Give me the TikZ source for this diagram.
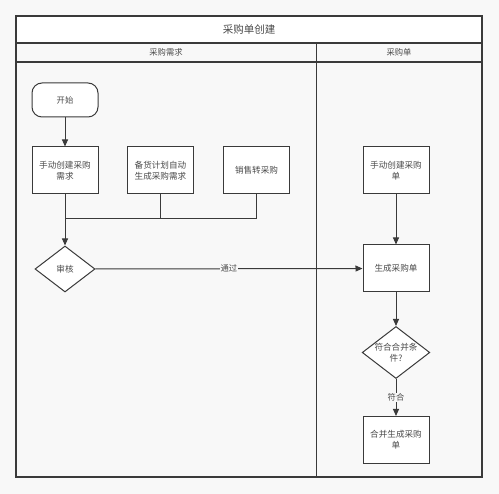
\documentclass[tikz,border=0pt]{standalone}
\usepackage{fontspec}
\setmainfont{Noto Sans CJK SC}
\usetikzlibrary{arrows.meta,shapes.geometric}
\definecolor{bg}{HTML}{F8F8F8}
\definecolor{ln}{HTML}{3A3A3A}
\definecolor{tx}{HTML}{4A4A4A}
\begin{document}
\begin{tikzpicture}[x=1pt,y=-1pt,
  every node/.style={text=tx},
  box/.style={draw=ln,line width=1pt,fill=white,minimum width=66pt,minimum height=47pt,align=center,font=\fontsize{8.6}{11}\selectfont,inner sep=1pt},
  startbox/.style={draw=ln,line width=1pt,fill=white,rounded corners=10pt,minimum width=66pt,minimum height=34pt,font=\fontsize{8.3}{11}\selectfont},
  dia/.style={draw=ln,line width=1pt,fill=white,diamond,aspect=1.3,minimum width=60pt,minimum height=46pt,inner sep=0pt,align=center,font=\fontsize{8.6}{11}\selectfont},
  conn/.style={draw=ln,line width=1pt},
  arr/.style={conn,-{Triangle[length=7pt,width=6pt]}},
  lbl/.style={fill=bg,inner sep=1pt,font=\fontsize{8.3}{11}\selectfont},
  frame/.style={draw=ln,line width=1.1pt}]
\fill[bg] (0,0) rectangle (499,494);
\useasboundingbox (0,0) rectangle (499,494);
% pool
\draw[frame,fill=white] (16,16) rectangle (482,43);
\draw[frame] (16,43) rectangle (482,477);
\draw[frame] (16,62) -- (482,62);
\draw[frame] (316.5,43) -- (316.5,477);
\node[font=\fontsize{10.5}{12}\selectfont] (title) at (249,29.5) {采购单创建};
\node[font=\fontsize{8.3}{10}\selectfont] (lane1) at (166,52.5) {采购需求};
\node[font=\fontsize{8.3}{10}\selectfont] (lane2) at (399,52.5) {采购单};
% nodes
\node[startbox] (start) at (65,100) {开始};
\node[box] (b1) at (65,170.5) {手动创建采购\\需求};
\node[box] (b2) at (160.5,170.5) {备货计划自动\\生成采购需求};
\node[box] (b3) at (256.5,170.5) {销售转采购};
\node[dia] (d1) at (65,269) {审核};
\node[box] (c1) at (396,170.5) {手动创建采购\\单};
\node[box] (c2) at (396,268.5) {生成采购单};
\node[dia] (d2) at (396,352.5) {符合合并条\\件?};
\node[box] (c3) at (396,440) {合并生成采购\\单};
\coordinate (j1) at (65,219);
\coordinate (j2) at (160.5,219);
% connectors
\draw[arr] (start) -- (b1);
\draw[arr] (b1) -- (d1);
\draw[conn] (b2) |- (j1);
\draw[conn] (b3) |- (j2);
\draw[arr] (d1) -- node[lbl] {通过} (c2);
\draw[arr] (c1) -- (c2);
\draw[arr] (c2) -- (d2);
\draw[arr] (d2) -- node[lbl] {符合} (c3);
\end{tikzpicture}
\end{document}
